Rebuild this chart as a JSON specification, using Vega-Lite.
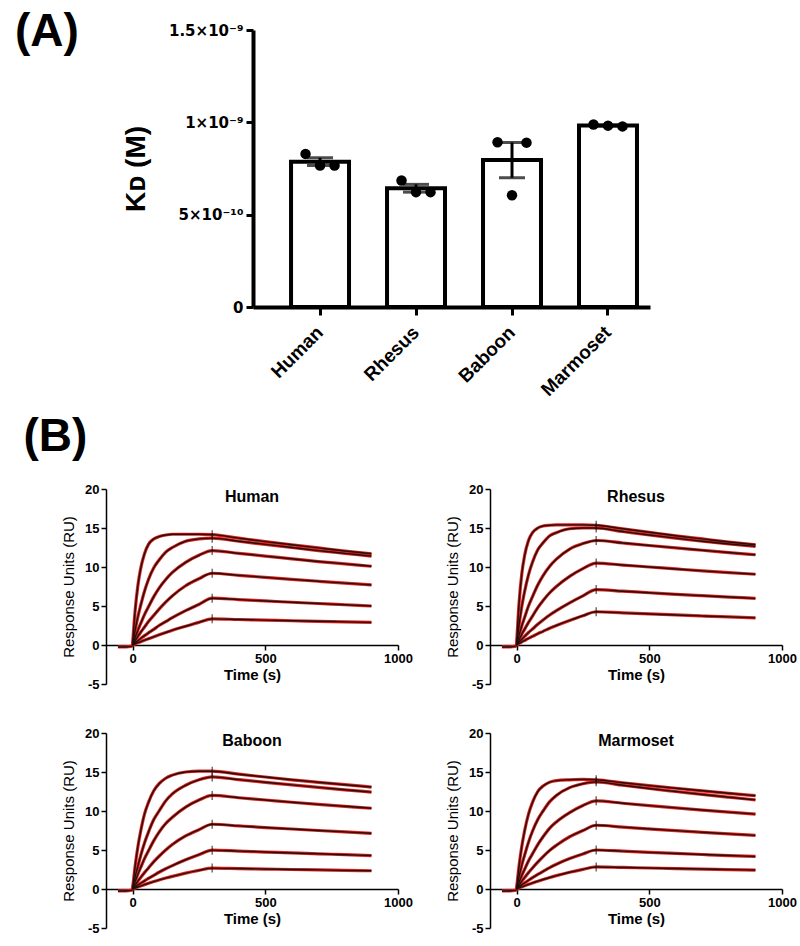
{
"$schema":"https://vega.github.io/schema/vega-lite/v6.json",
"background":"white",
"padding":{"left":15,"top":9,"right":2,"bottom":2},
"config":{"view":{"stroke":null},"font":"Liberation Sans","axis":{"grid":false,"domainColor":"black","tickColor":"black","labelColor":"black","titleColor":"black","labelFlush":false},"title":{"color":"black"}},
"datasets":{
"kd":[
{"sp":"Human","rep":1,"kd":8.29e-10},{"sp":"Human","rep":2,"kd":7.66e-10},{"sp":"Human","rep":3,"kd":7.66e-10},
{"sp":"Rhesus","rep":1,"kd":6.85e-10},{"sp":"Rhesus","rep":2,"kd":6.22e-10},{"sp":"Rhesus","rep":3,"kd":6.22e-10},
{"sp":"Baboon","rep":1,"kd":8.92e-10},{"sp":"Baboon","rep":2,"kd":6.05e-10},{"sp":"Baboon","rep":3,"kd":8.9e-10},
{"sp":"Marmoset","rep":1,"kd":9.88e-10},{"sp":"Marmoset","rep":2,"kd":9.82e-10},{"sp":"Marmoset","rep":3,"kd":9.78e-10}
],
"spr":[
{"s":"Human","c":0,"t":-55,"r":-0.25},{"s":"Human","c":0,"t":-25,"r":-0.25},{"s":"Human","c":0,"t":0,"r":-0.15},
{"s":"Human","c":1,"t":0,"r":0},{"s":"Human","c":1,"t":10,"r":4.5},{"s":"Human","c":1,"t":20,"r":7.6},{"s":"Human","c":1,"t":30,"r":9.7},{"s":"Human","c":1,"t":45,"r":11.7},{"s":"Human","c":1,"t":60,"r":12.9},{"s":"Human","c":1,"t":80,"r":13.6},{"s":"Human","c":1,"t":100,"r":13.9},{"s":"Human","c":1,"t":125,"r":14.1},{"s":"Human","c":1,"t":150,"r":14.2},{"s":"Human","c":1,"t":200,"r":14.2},{"s":"Human","c":1,"t":250,"r":14.2},{"s":"Human","c":1,"t":300,"r":14.15},{"s":"Human","c":1,"t":400,"r":13.7},{"s":"Human","c":1,"t":500,"r":13.25},{"s":"Human","c":1,"t":600,"r":12.85},{"s":"Human","c":1,"t":700,"r":12.45},{"s":"Human","c":1,"t":800,"r":12.05},{"s":"Human","c":1,"t":900,"r":11.7},
{"s":"Human","c":2,"t":0,"r":0},{"s":"Human","c":2,"t":10,"r":1.95},{"s":"Human","c":2,"t":20,"r":3.6},{"s":"Human","c":2,"t":30,"r":5.0},{"s":"Human","c":2,"t":45,"r":6.9},{"s":"Human","c":2,"t":60,"r":8.4},{"s":"Human","c":2,"t":80,"r":9.9},{"s":"Human","c":2,"t":100,"r":10.9},{"s":"Human","c":2,"t":125,"r":11.9},{"s":"Human","c":2,"t":150,"r":12.5},{"s":"Human","c":2,"t":200,"r":13.3},{"s":"Human","c":2,"t":250,"r":13.6},{"s":"Human","c":2,"t":300,"r":13.7},{"s":"Human","c":2,"t":400,"r":13.3},{"s":"Human","c":2,"t":500,"r":12.9},{"s":"Human","c":2,"t":600,"r":12.5},{"s":"Human","c":2,"t":700,"r":12.1},{"s":"Human","c":2,"t":800,"r":11.75},{"s":"Human","c":2,"t":900,"r":11.4},
{"s":"Human","c":3,"t":0,"r":0},{"s":"Human","c":3,"t":10,"r":0.98},{"s":"Human","c":3,"t":20,"r":1.9},{"s":"Human","c":3,"t":30,"r":2.7},{"s":"Human","c":3,"t":45,"r":3.9},{"s":"Human","c":3,"t":60,"r":4.9},{"s":"Human","c":3,"t":80,"r":6.2},{"s":"Human","c":3,"t":100,"r":7.3},{"s":"Human","c":3,"t":125,"r":8.4},{"s":"Human","c":3,"t":150,"r":9.3},{"s":"Human","c":3,"t":200,"r":10.6},{"s":"Human","c":3,"t":250,"r":11.5},{"s":"Human","c":3,"t":300,"r":12.1},{"s":"Human","c":3,"t":400,"r":11.75},{"s":"Human","c":3,"t":500,"r":11.4},{"s":"Human","c":3,"t":600,"r":11.05},{"s":"Human","c":3,"t":700,"r":10.7},{"s":"Human","c":3,"t":800,"r":10.4},{"s":"Human","c":3,"t":900,"r":10.1},
{"s":"Human","c":4,"t":0,"r":0},{"s":"Human","c":4,"t":10,"r":0.55},{"s":"Human","c":4,"t":20,"r":1.1},{"s":"Human","c":4,"t":30,"r":1.6},{"s":"Human","c":4,"t":45,"r":2.3},{"s":"Human","c":4,"t":60,"r":3.0},{"s":"Human","c":4,"t":80,"r":3.8},{"s":"Human","c":4,"t":100,"r":4.6},{"s":"Human","c":4,"t":125,"r":5.5},{"s":"Human","c":4,"t":150,"r":6.3},{"s":"Human","c":4,"t":200,"r":7.6},{"s":"Human","c":4,"t":250,"r":8.5},{"s":"Human","c":4,"t":300,"r":9.2},{"s":"Human","c":4,"t":400,"r":8.93},{"s":"Human","c":4,"t":500,"r":8.67},{"s":"Human","c":4,"t":600,"r":8.42},{"s":"Human","c":4,"t":700,"r":8.17},{"s":"Human","c":4,"t":800,"r":7.93},{"s":"Human","c":4,"t":900,"r":7.7},
{"s":"Human","c":5,"t":0,"r":0},{"s":"Human","c":5,"t":10,"r":0.3},{"s":"Human","c":5,"t":20,"r":0.55},{"s":"Human","c":5,"t":30,"r":0.8},{"s":"Human","c":5,"t":45,"r":1.2},{"s":"Human","c":5,"t":60,"r":1.55},{"s":"Human","c":5,"t":80,"r":2.0},{"s":"Human","c":5,"t":100,"r":2.5},{"s":"Human","c":5,"t":125,"r":3.0},{"s":"Human","c":5,"t":150,"r":3.5},{"s":"Human","c":5,"t":200,"r":4.4},{"s":"Human","c":5,"t":250,"r":5.2},{"s":"Human","c":5,"t":300,"r":6.0},{"s":"Human","c":5,"t":400,"r":5.82},{"s":"Human","c":5,"t":500,"r":5.65},{"s":"Human","c":5,"t":600,"r":5.48},{"s":"Human","c":5,"t":700,"r":5.32},{"s":"Human","c":5,"t":800,"r":5.16},{"s":"Human","c":5,"t":900,"r":5.0},
{"s":"Human","c":6,"t":0,"r":0},{"s":"Human","c":6,"t":10,"r":0.15},{"s":"Human","c":6,"t":20,"r":0.3},{"s":"Human","c":6,"t":30,"r":0.42},{"s":"Human","c":6,"t":45,"r":0.62},{"s":"Human","c":6,"t":60,"r":0.8},{"s":"Human","c":6,"t":80,"r":1.05},{"s":"Human","c":6,"t":100,"r":1.3},{"s":"Human","c":6,"t":125,"r":1.6},{"s":"Human","c":6,"t":150,"r":1.9},{"s":"Human","c":6,"t":200,"r":2.4},{"s":"Human","c":6,"t":250,"r":2.9},{"s":"Human","c":6,"t":300,"r":3.35},{"s":"Human","c":6,"t":400,"r":3.27},{"s":"Human","c":6,"t":500,"r":3.19},{"s":"Human","c":6,"t":600,"r":3.11},{"s":"Human","c":6,"t":700,"r":3.04},{"s":"Human","c":6,"t":800,"r":2.97},{"s":"Human","c":6,"t":900,"r":2.9},
{"s":"Rhesus","c":0,"t":-55,"r":-0.25},{"s":"Rhesus","c":0,"t":-25,"r":-0.25},{"s":"Rhesus","c":0,"t":0,"r":-0.15},
{"s":"Rhesus","c":1,"t":0,"r":0},{"s":"Rhesus","c":1,"t":10,"r":5.6},{"s":"Rhesus","c":1,"t":20,"r":9.2},{"s":"Rhesus","c":1,"t":30,"r":11.4},{"s":"Rhesus","c":1,"t":45,"r":13.4},{"s":"Rhesus","c":1,"t":60,"r":14.4},{"s":"Rhesus","c":1,"t":80,"r":15.0},{"s":"Rhesus","c":1,"t":100,"r":15.25},{"s":"Rhesus","c":1,"t":125,"r":15.35},{"s":"Rhesus","c":1,"t":150,"r":15.4},{"s":"Rhesus","c":1,"t":200,"r":15.4},{"s":"Rhesus","c":1,"t":250,"r":15.4},{"s":"Rhesus","c":1,"t":300,"r":15.35},{"s":"Rhesus","c":1,"t":400,"r":14.9},{"s":"Rhesus","c":1,"t":500,"r":14.45},{"s":"Rhesus","c":1,"t":600,"r":14.0},{"s":"Rhesus","c":1,"t":700,"r":13.6},{"s":"Rhesus","c":1,"t":800,"r":13.2},{"s":"Rhesus","c":1,"t":900,"r":12.86},
{"s":"Rhesus","c":2,"t":0,"r":0},{"s":"Rhesus","c":2,"t":10,"r":2.7},{"s":"Rhesus","c":2,"t":20,"r":5.0},{"s":"Rhesus","c":2,"t":30,"r":6.8},{"s":"Rhesus","c":2,"t":45,"r":9.0},{"s":"Rhesus","c":2,"t":60,"r":10.6},{"s":"Rhesus","c":2,"t":80,"r":12.2},{"s":"Rhesus","c":2,"t":100,"r":13.1},{"s":"Rhesus","c":2,"t":125,"r":14.0},{"s":"Rhesus","c":2,"t":150,"r":14.4},{"s":"Rhesus","c":2,"t":200,"r":14.9},{"s":"Rhesus","c":2,"t":250,"r":15.0},{"s":"Rhesus","c":2,"t":300,"r":15.0},{"s":"Rhesus","c":2,"t":400,"r":14.55},{"s":"Rhesus","c":2,"t":500,"r":14.1},{"s":"Rhesus","c":2,"t":600,"r":13.7},{"s":"Rhesus","c":2,"t":700,"r":13.3},{"s":"Rhesus","c":2,"t":800,"r":12.95},{"s":"Rhesus","c":2,"t":900,"r":12.65},
{"s":"Rhesus","c":3,"t":0,"r":0},{"s":"Rhesus","c":3,"t":10,"r":1.3},{"s":"Rhesus","c":3,"t":20,"r":2.5},{"s":"Rhesus","c":3,"t":30,"r":3.5},{"s":"Rhesus","c":3,"t":45,"r":5.0},{"s":"Rhesus","c":3,"t":60,"r":6.2},{"s":"Rhesus","c":3,"t":80,"r":7.7},{"s":"Rhesus","c":3,"t":100,"r":8.9},{"s":"Rhesus","c":3,"t":125,"r":10.1},{"s":"Rhesus","c":3,"t":150,"r":11.0},{"s":"Rhesus","c":3,"t":200,"r":12.3},{"s":"Rhesus","c":3,"t":250,"r":13.0},{"s":"Rhesus","c":3,"t":300,"r":13.4},{"s":"Rhesus","c":3,"t":400,"r":13.08},{"s":"Rhesus","c":3,"t":500,"r":12.76},{"s":"Rhesus","c":3,"t":600,"r":12.45},{"s":"Rhesus","c":3,"t":700,"r":12.15},{"s":"Rhesus","c":3,"t":800,"r":11.85},{"s":"Rhesus","c":3,"t":900,"r":11.57},
{"s":"Rhesus","c":4,"t":0,"r":0},{"s":"Rhesus","c":4,"t":10,"r":0.7},{"s":"Rhesus","c":4,"t":20,"r":1.4},{"s":"Rhesus","c":4,"t":30,"r":2.0},{"s":"Rhesus","c":4,"t":45,"r":2.9},{"s":"Rhesus","c":4,"t":60,"r":3.7},{"s":"Rhesus","c":4,"t":80,"r":4.8},{"s":"Rhesus","c":4,"t":100,"r":5.7},{"s":"Rhesus","c":4,"t":125,"r":6.7},{"s":"Rhesus","c":4,"t":150,"r":7.5},{"s":"Rhesus","c":4,"t":200,"r":8.8},{"s":"Rhesus","c":4,"t":250,"r":9.8},{"s":"Rhesus","c":4,"t":300,"r":10.5},{"s":"Rhesus","c":4,"t":400,"r":10.25},{"s":"Rhesus","c":4,"t":500,"r":10.0},{"s":"Rhesus","c":4,"t":600,"r":9.75},{"s":"Rhesus","c":4,"t":700,"r":9.5},{"s":"Rhesus","c":4,"t":800,"r":9.28},{"s":"Rhesus","c":4,"t":900,"r":9.07},
{"s":"Rhesus","c":5,"t":0,"r":0},{"s":"Rhesus","c":5,"t":10,"r":0.4},{"s":"Rhesus","c":5,"t":20,"r":0.75},{"s":"Rhesus","c":5,"t":30,"r":1.1},{"s":"Rhesus","c":5,"t":45,"r":1.6},{"s":"Rhesus","c":5,"t":60,"r":2.05},{"s":"Rhesus","c":5,"t":80,"r":2.65},{"s":"Rhesus","c":5,"t":100,"r":3.2},{"s":"Rhesus","c":5,"t":125,"r":3.85},{"s":"Rhesus","c":5,"t":150,"r":4.4},{"s":"Rhesus","c":5,"t":200,"r":5.4},{"s":"Rhesus","c":5,"t":250,"r":6.3},{"s":"Rhesus","c":5,"t":300,"r":7.1},{"s":"Rhesus","c":5,"t":400,"r":6.9},{"s":"Rhesus","c":5,"t":500,"r":6.7},{"s":"Rhesus","c":5,"t":600,"r":6.5},{"s":"Rhesus","c":5,"t":700,"r":6.32},{"s":"Rhesus","c":5,"t":800,"r":6.15},{"s":"Rhesus","c":5,"t":900,"r":5.98},
{"s":"Rhesus","c":6,"t":0,"r":0},{"s":"Rhesus","c":6,"t":10,"r":0.2},{"s":"Rhesus","c":6,"t":20,"r":0.4},{"s":"Rhesus","c":6,"t":30,"r":0.58},{"s":"Rhesus","c":6,"t":45,"r":0.85},{"s":"Rhesus","c":6,"t":60,"r":1.1},{"s":"Rhesus","c":6,"t":80,"r":1.45},{"s":"Rhesus","c":6,"t":100,"r":1.75},{"s":"Rhesus","c":6,"t":125,"r":2.15},{"s":"Rhesus","c":6,"t":150,"r":2.5},{"s":"Rhesus","c":6,"t":200,"r":3.15},{"s":"Rhesus","c":6,"t":250,"r":3.75},{"s":"Rhesus","c":6,"t":300,"r":4.26},{"s":"Rhesus","c":6,"t":400,"r":4.12},{"s":"Rhesus","c":6,"t":500,"r":3.98},{"s":"Rhesus","c":6,"t":600,"r":3.85},{"s":"Rhesus","c":6,"t":700,"r":3.72},{"s":"Rhesus","c":6,"t":800,"r":3.6},{"s":"Rhesus","c":6,"t":900,"r":3.48},
{"s":"Baboon","c":0,"t":-55,"r":-0.25},{"s":"Baboon","c":0,"t":-25,"r":-0.25},{"s":"Baboon","c":0,"t":0,"r":-0.15},
{"s":"Baboon","c":1,"t":0,"r":0},{"s":"Baboon","c":1,"t":10,"r":3.0},{"s":"Baboon","c":1,"t":20,"r":5.4},{"s":"Baboon","c":1,"t":30,"r":7.3},{"s":"Baboon","c":1,"t":45,"r":9.6},{"s":"Baboon","c":1,"t":60,"r":11.1},{"s":"Baboon","c":1,"t":80,"r":12.6},{"s":"Baboon","c":1,"t":100,"r":13.5},{"s":"Baboon","c":1,"t":125,"r":14.2},{"s":"Baboon","c":1,"t":150,"r":14.6},{"s":"Baboon","c":1,"t":200,"r":15.0},{"s":"Baboon","c":1,"t":250,"r":15.1},{"s":"Baboon","c":1,"t":300,"r":15.1},{"s":"Baboon","c":1,"t":400,"r":14.72},{"s":"Baboon","c":1,"t":500,"r":14.36},{"s":"Baboon","c":1,"t":600,"r":14.0},{"s":"Baboon","c":1,"t":700,"r":13.68},{"s":"Baboon","c":1,"t":800,"r":13.37},{"s":"Baboon","c":1,"t":900,"r":13.07},
{"s":"Baboon","c":2,"t":0,"r":0},{"s":"Baboon","c":2,"t":10,"r":1.6},{"s":"Baboon","c":2,"t":20,"r":2.9},{"s":"Baboon","c":2,"t":30,"r":4.2},{"s":"Baboon","c":2,"t":45,"r":5.9},{"s":"Baboon","c":2,"t":60,"r":7.3},{"s":"Baboon","c":2,"t":80,"r":8.9},{"s":"Baboon","c":2,"t":100,"r":10.0},{"s":"Baboon","c":2,"t":125,"r":11.3},{"s":"Baboon","c":2,"t":150,"r":12.2},{"s":"Baboon","c":2,"t":200,"r":13.3},{"s":"Baboon","c":2,"t":250,"r":14.0},{"s":"Baboon","c":2,"t":300,"r":14.37},{"s":"Baboon","c":2,"t":400,"r":14.02},{"s":"Baboon","c":2,"t":500,"r":13.68},{"s":"Baboon","c":2,"t":600,"r":13.35},{"s":"Baboon","c":2,"t":700,"r":13.03},{"s":"Baboon","c":2,"t":800,"r":12.72},{"s":"Baboon","c":2,"t":900,"r":12.42},
{"s":"Baboon","c":3,"t":0,"r":0},{"s":"Baboon","c":3,"t":10,"r":0.97},{"s":"Baboon","c":3,"t":20,"r":1.9},{"s":"Baboon","c":3,"t":30,"r":2.7},{"s":"Baboon","c":3,"t":45,"r":3.9},{"s":"Baboon","c":3,"t":60,"r":4.9},{"s":"Baboon","c":3,"t":80,"r":6.2},{"s":"Baboon","c":3,"t":100,"r":7.3},{"s":"Baboon","c":3,"t":125,"r":8.4},{"s":"Baboon","c":3,"t":150,"r":9.2},{"s":"Baboon","c":3,"t":200,"r":10.5},{"s":"Baboon","c":3,"t":250,"r":11.4},{"s":"Baboon","c":3,"t":300,"r":12.0},{"s":"Baboon","c":3,"t":400,"r":11.7},{"s":"Baboon","c":3,"t":500,"r":11.41},{"s":"Baboon","c":3,"t":600,"r":11.12},{"s":"Baboon","c":3,"t":700,"r":10.85},{"s":"Baboon","c":3,"t":800,"r":10.6},{"s":"Baboon","c":3,"t":900,"r":10.35},
{"s":"Baboon","c":4,"t":0,"r":0},{"s":"Baboon","c":4,"t":10,"r":0.5},{"s":"Baboon","c":4,"t":20,"r":1.0},{"s":"Baboon","c":4,"t":30,"r":1.45},{"s":"Baboon","c":4,"t":45,"r":2.1},{"s":"Baboon","c":4,"t":60,"r":2.7},{"s":"Baboon","c":4,"t":80,"r":3.5},{"s":"Baboon","c":4,"t":100,"r":4.2},{"s":"Baboon","c":4,"t":125,"r":5.0},{"s":"Baboon","c":4,"t":150,"r":5.7},{"s":"Baboon","c":4,"t":200,"r":6.8},{"s":"Baboon","c":4,"t":250,"r":7.6},{"s":"Baboon","c":4,"t":300,"r":8.3},{"s":"Baboon","c":4,"t":400,"r":8.09},{"s":"Baboon","c":4,"t":500,"r":7.88},{"s":"Baboon","c":4,"t":600,"r":7.69},{"s":"Baboon","c":4,"t":700,"r":7.5},{"s":"Baboon","c":4,"t":800,"r":7.32},{"s":"Baboon","c":4,"t":900,"r":7.14},
{"s":"Baboon","c":5,"t":0,"r":0},{"s":"Baboon","c":5,"t":10,"r":0.25},{"s":"Baboon","c":5,"t":20,"r":0.5},{"s":"Baboon","c":5,"t":30,"r":0.72},{"s":"Baboon","c":5,"t":45,"r":1.05},{"s":"Baboon","c":5,"t":60,"r":1.35},{"s":"Baboon","c":5,"t":80,"r":1.75},{"s":"Baboon","c":5,"t":100,"r":2.15},{"s":"Baboon","c":5,"t":125,"r":2.6},{"s":"Baboon","c":5,"t":150,"r":3.0},{"s":"Baboon","c":5,"t":200,"r":3.75},{"s":"Baboon","c":5,"t":250,"r":4.4},{"s":"Baboon","c":5,"t":300,"r":4.98},{"s":"Baboon","c":5,"t":400,"r":4.86},{"s":"Baboon","c":5,"t":500,"r":4.74},{"s":"Baboon","c":5,"t":600,"r":4.62},{"s":"Baboon","c":5,"t":700,"r":4.51},{"s":"Baboon","c":5,"t":800,"r":4.4},{"s":"Baboon","c":5,"t":900,"r":4.29},
{"s":"Baboon","c":6,"t":0,"r":0},{"s":"Baboon","c":6,"t":10,"r":0.13},{"s":"Baboon","c":6,"t":20,"r":0.26},{"s":"Baboon","c":6,"t":30,"r":0.38},{"s":"Baboon","c":6,"t":45,"r":0.56},{"s":"Baboon","c":6,"t":60,"r":0.73},{"s":"Baboon","c":6,"t":80,"r":0.95},{"s":"Baboon","c":6,"t":100,"r":1.16},{"s":"Baboon","c":6,"t":125,"r":1.4},{"s":"Baboon","c":6,"t":150,"r":1.62},{"s":"Baboon","c":6,"t":200,"r":2.03},{"s":"Baboon","c":6,"t":250,"r":2.38},{"s":"Baboon","c":6,"t":300,"r":2.68},{"s":"Baboon","c":6,"t":400,"r":2.62},{"s":"Baboon","c":6,"t":500,"r":2.56},{"s":"Baboon","c":6,"t":600,"r":2.5},{"s":"Baboon","c":6,"t":700,"r":2.45},{"s":"Baboon","c":6,"t":800,"r":2.39},{"s":"Baboon","c":6,"t":900,"r":2.34},
{"s":"Marmoset","c":0,"t":-55,"r":-0.25},{"s":"Marmoset","c":0,"t":-25,"r":-0.25},{"s":"Marmoset","c":0,"t":0,"r":-0.15},
{"s":"Marmoset","c":1,"t":0,"r":0},{"s":"Marmoset","c":1,"t":10,"r":3.1},{"s":"Marmoset","c":1,"t":20,"r":5.5},{"s":"Marmoset","c":1,"t":30,"r":7.4},{"s":"Marmoset","c":1,"t":45,"r":9.6},{"s":"Marmoset","c":1,"t":60,"r":11.1},{"s":"Marmoset","c":1,"t":80,"r":12.5},{"s":"Marmoset","c":1,"t":100,"r":13.2},{"s":"Marmoset","c":1,"t":125,"r":13.7},{"s":"Marmoset","c":1,"t":150,"r":13.9},{"s":"Marmoset","c":1,"t":200,"r":14.0},{"s":"Marmoset","c":1,"t":250,"r":14.05},{"s":"Marmoset","c":1,"t":300,"r":14.0},{"s":"Marmoset","c":1,"t":400,"r":13.62},{"s":"Marmoset","c":1,"t":500,"r":13.26},{"s":"Marmoset","c":1,"t":600,"r":12.92},{"s":"Marmoset","c":1,"t":700,"r":12.59},{"s":"Marmoset","c":1,"t":800,"r":12.27},{"s":"Marmoset","c":1,"t":900,"r":11.96},
{"s":"Marmoset","c":2,"t":0,"r":0},{"s":"Marmoset","c":2,"t":10,"r":1.65},{"s":"Marmoset","c":2,"t":20,"r":3.1},{"s":"Marmoset","c":2,"t":30,"r":4.3},{"s":"Marmoset","c":2,"t":45,"r":6.0},{"s":"Marmoset","c":2,"t":60,"r":7.4},{"s":"Marmoset","c":2,"t":80,"r":8.9},{"s":"Marmoset","c":2,"t":100,"r":10.0},{"s":"Marmoset","c":2,"t":125,"r":11.2},{"s":"Marmoset","c":2,"t":150,"r":12.0},{"s":"Marmoset","c":2,"t":200,"r":13.0},{"s":"Marmoset","c":2,"t":250,"r":13.5},{"s":"Marmoset","c":2,"t":300,"r":13.74},{"s":"Marmoset","c":2,"t":400,"r":13.3},{"s":"Marmoset","c":2,"t":500,"r":12.88},{"s":"Marmoset","c":2,"t":600,"r":12.5},{"s":"Marmoset","c":2,"t":700,"r":12.12},{"s":"Marmoset","c":2,"t":800,"r":11.77},{"s":"Marmoset","c":2,"t":900,"r":11.43},
{"s":"Marmoset","c":3,"t":0,"r":0},{"s":"Marmoset","c":3,"t":10,"r":0.9},{"s":"Marmoset","c":3,"t":20,"r":1.75},{"s":"Marmoset","c":3,"t":30,"r":2.5},{"s":"Marmoset","c":3,"t":45,"r":3.6},{"s":"Marmoset","c":3,"t":60,"r":4.5},{"s":"Marmoset","c":3,"t":80,"r":5.7},{"s":"Marmoset","c":3,"t":100,"r":6.7},{"s":"Marmoset","c":3,"t":125,"r":7.8},{"s":"Marmoset","c":3,"t":150,"r":8.6},{"s":"Marmoset","c":3,"t":200,"r":9.8},{"s":"Marmoset","c":3,"t":250,"r":10.7},{"s":"Marmoset","c":3,"t":300,"r":11.3},{"s":"Marmoset","c":3,"t":400,"r":10.99},{"s":"Marmoset","c":3,"t":500,"r":10.69},{"s":"Marmoset","c":3,"t":600,"r":10.4},{"s":"Marmoset","c":3,"t":700,"r":10.12},{"s":"Marmoset","c":3,"t":800,"r":9.86},{"s":"Marmoset","c":3,"t":900,"r":9.6},
{"s":"Marmoset","c":4,"t":0,"r":0},{"s":"Marmoset","c":4,"t":10,"r":0.5},{"s":"Marmoset","c":4,"t":20,"r":1.0},{"s":"Marmoset","c":4,"t":30,"r":1.45},{"s":"Marmoset","c":4,"t":45,"r":2.1},{"s":"Marmoset","c":4,"t":60,"r":2.7},{"s":"Marmoset","c":4,"t":80,"r":3.45},{"s":"Marmoset","c":4,"t":100,"r":4.15},{"s":"Marmoset","c":4,"t":125,"r":4.95},{"s":"Marmoset","c":4,"t":150,"r":5.6},{"s":"Marmoset","c":4,"t":200,"r":6.7},{"s":"Marmoset","c":4,"t":250,"r":7.5},{"s":"Marmoset","c":4,"t":300,"r":8.17},{"s":"Marmoset","c":4,"t":400,"r":7.93},{"s":"Marmoset","c":4,"t":500,"r":7.7},{"s":"Marmoset","c":4,"t":600,"r":7.48},{"s":"Marmoset","c":4,"t":700,"r":7.27},{"s":"Marmoset","c":4,"t":800,"r":7.07},{"s":"Marmoset","c":4,"t":900,"r":6.87},
{"s":"Marmoset","c":5,"t":0,"r":0},{"s":"Marmoset","c":5,"t":10,"r":0.27},{"s":"Marmoset","c":5,"t":20,"r":0.53},{"s":"Marmoset","c":5,"t":30,"r":0.77},{"s":"Marmoset","c":5,"t":45,"r":1.12},{"s":"Marmoset","c":5,"t":60,"r":1.45},{"s":"Marmoset","c":5,"t":80,"r":1.87},{"s":"Marmoset","c":5,"t":100,"r":2.27},{"s":"Marmoset","c":5,"t":125,"r":2.75},{"s":"Marmoset","c":5,"t":150,"r":3.17},{"s":"Marmoset","c":5,"t":200,"r":3.9},{"s":"Marmoset","c":5,"t":250,"r":4.5},{"s":"Marmoset","c":5,"t":300,"r":5.0},{"s":"Marmoset","c":5,"t":400,"r":4.85},{"s":"Marmoset","c":5,"t":500,"r":4.7},{"s":"Marmoset","c":5,"t":600,"r":4.56},{"s":"Marmoset","c":5,"t":700,"r":4.42},{"s":"Marmoset","c":5,"t":800,"r":4.29},{"s":"Marmoset","c":5,"t":900,"r":4.17},
{"s":"Marmoset","c":6,"t":0,"r":0},{"s":"Marmoset","c":6,"t":10,"r":0.14},{"s":"Marmoset","c":6,"t":20,"r":0.28},{"s":"Marmoset","c":6,"t":30,"r":0.41},{"s":"Marmoset","c":6,"t":45,"r":0.6},{"s":"Marmoset","c":6,"t":60,"r":0.78},{"s":"Marmoset","c":6,"t":80,"r":1.0},{"s":"Marmoset","c":6,"t":100,"r":1.22},{"s":"Marmoset","c":6,"t":125,"r":1.48},{"s":"Marmoset","c":6,"t":150,"r":1.72},{"s":"Marmoset","c":6,"t":200,"r":2.15},{"s":"Marmoset","c":6,"t":250,"r":2.52},{"s":"Marmoset","c":6,"t":300,"r":2.83},{"s":"Marmoset","c":6,"t":400,"r":2.76},{"s":"Marmoset","c":6,"t":500,"r":2.69},{"s":"Marmoset","c":6,"t":600,"r":2.62},{"s":"Marmoset","c":6,"t":700,"r":2.56},{"s":"Marmoset","c":6,"t":800,"r":2.49},{"s":"Marmoset","c":6,"t":900,"r":2.43}
]
},
"columns":1,
"align":"none",
"spacing":14,
"concat":[
{
"title":{"text":"(A)","anchor":"start","frame":"bounds","fontSize":46,"fontWeight":"bold","dx":-91,"offset":-33},
"spacing":15,
"hconcat":[
{"width":1,"height":1,"data":{"values":[]},"mark":{"type":"point","opacity":0}},
{
"width":397,"height":277,
"data":{"name":"kd"},
"resolve":{"scale":{"xOffset":"independent"}},
"encoding":{"x":{"field":"sp","type":"nominal","sort":["Human","Rhesus","Baboon","Marmoset"],"scale":{"paddingInner":0.396,"paddingOuter":0.266,"align":0.745},"axis":{"title":null,"labelAngle":-45,"labelAlign":"right","labelBaseline":"middle","labelFontSize":19,"labelFontWeight":"bold","domainWidth":4,"tickWidth":3,"tickSize":8,"labelPadding":14}}},
"layer":[
{"mark":{"type":"bar","fill":"white","stroke":"black","strokeWidth":4},
 "encoding":{"y":{"aggregate":"mean","field":"kd","type":"quantitative","title":"Kᴅ (M)","scale":{"domain":[0,1.5e-9],"nice":false},"axis":{"values":[0,5e-10,1e-9,1.5e-9],"labelExpr":"datum.value == 0 ? '0' : datum.value < 6e-10 ? '5×10⁻¹⁰' : datum.value < 1.2e-9 ? '1×10⁻⁹' : '1.5×10⁻⁹'","labelFont":"DejaVu Sans","labelFontSize":15,"labelFontWeight":"bold","titleFontSize":28,"titleFontWeight":"bold","titlePadding":18,"domainWidth":4,"tickWidth":3,"tickSize":7,"labelPadding":3}}}},
{"mark":{"type":"errorbar","extent":"stderr","color":"black","ticks":{"size":26,"thickness":3},"rule":{"strokeWidth":3}},
 "encoding":{"y":{"field":"kd","type":"quantitative","title":"Kᴅ (M)"}}},
{"mark":{"type":"circle","size":110,"color":"black","opacity":1},
 "encoding":{"y":{"field":"kd","type":"quantitative","title":"Kᴅ (M)"},"xOffset":{"field":"rep","type":"ordinal","scale":{"paddingInner":0,"paddingOuter":1.05}}}}
]
}
]
},
{
"title":{"text":"(B)","anchor":"start","frame":"bounds","fontSize":46,"fontWeight":"bold","dx":-38,"offset":22},
"columns":2,
"spacing":{"row":36,"column":32},
"concat":[
{"width":292,"height":195,"title":{"text":"Human","fontSize":16,"fontWeight":"bold","offset":-22,"anchor":"middle"},
 "data":{"name":"spr"},"transform":[{"filter":"datum.s == 'Human'"}],
 "encoding":{"x":{"field":"t","type":"quantitative","scale":{"domain":[-100,1000],"nice":false,"zero":false},"axis":{"values":[0,500,1000],"format":"d","title":"Time (s)","offset":-39,"titleFontSize":15,"titleFontWeight":"bold","labelFontSize":13,"labelFontWeight":"bold","tickSize":5,"domainWidth":1.5,"tickWidth":1.5,"titlePadding":2,"labelPadding":2}},
  "y":{"field":"r","type":"quantitative","scale":{"domain":[-5,20],"nice":false},"axis":{"values":[-5,0,5,10,15,20],"labelExpr":"datum.value < 0 ? '-' + abs(datum.value) : '' + datum.value","title":"Response Units (RU)","titleFontSize":15,"titleFontWeight":"normal","labelFontSize":13,"labelFontWeight":"bold","tickSize":5,"domainWidth":1.5,"tickWidth":1.5,"titlePadding":8}},
  "detail":{"field":"c","type":"nominal"}},
 "layer":[{"mark":{"type":"line","color":"#e3211c","strokeWidth":3.2,"interpolate":"monotone"},"encoding":{}},{"mark":{"type":"line","color":"#1b1010","strokeWidth":1.4,"interpolate":"monotone"},"encoding":{}},{"transform":[{"filter":"datum.t == 300 && datum.c > 0"}],"mark":{"type":"tick","orient":"vertical","size":9,"thickness":1.3,"color":"#1b1010"},"encoding":{}}]},
{"width":292,"height":195,"title":{"text":"Rhesus","fontSize":16,"fontWeight":"bold","offset":-22,"anchor":"middle"},
 "data":{"name":"spr"},"transform":[{"filter":"datum.s == 'Rhesus'"}],
 "encoding":{"x":{"field":"t","type":"quantitative","scale":{"domain":[-100,1000],"nice":false,"zero":false},"axis":{"values":[0,500,1000],"format":"d","title":"Time (s)","offset":-39,"titleFontSize":15,"titleFontWeight":"bold","labelFontSize":13,"labelFontWeight":"bold","tickSize":5,"domainWidth":1.5,"tickWidth":1.5,"titlePadding":2,"labelPadding":2}},
  "y":{"field":"r","type":"quantitative","scale":{"domain":[-5,20],"nice":false},"axis":{"values":[-5,0,5,10,15,20],"labelExpr":"datum.value < 0 ? '-' + abs(datum.value) : '' + datum.value","title":"Response Units (RU)","titleFontSize":15,"titleFontWeight":"normal","labelFontSize":13,"labelFontWeight":"bold","tickSize":5,"domainWidth":1.5,"tickWidth":1.5,"titlePadding":8}},
  "detail":{"field":"c","type":"nominal"}},
 "layer":[{"mark":{"type":"line","color":"#e3211c","strokeWidth":3.2,"interpolate":"monotone"},"encoding":{}},{"mark":{"type":"line","color":"#1b1010","strokeWidth":1.4,"interpolate":"monotone"},"encoding":{}},{"transform":[{"filter":"datum.t == 300 && datum.c > 0"}],"mark":{"type":"tick","orient":"vertical","size":9,"thickness":1.3,"color":"#1b1010"},"encoding":{}}]},
{"width":292,"height":195,"title":{"text":"Baboon","fontSize":16,"fontWeight":"bold","offset":-22,"anchor":"middle"},
 "data":{"name":"spr"},"transform":[{"filter":"datum.s == 'Baboon'"}],
 "encoding":{"x":{"field":"t","type":"quantitative","scale":{"domain":[-100,1000],"nice":false,"zero":false},"axis":{"values":[0,500,1000],"format":"d","title":"Time (s)","offset":-39,"titleFontSize":15,"titleFontWeight":"bold","labelFontSize":13,"labelFontWeight":"bold","tickSize":5,"domainWidth":1.5,"tickWidth":1.5,"titlePadding":2,"labelPadding":2}},
  "y":{"field":"r","type":"quantitative","scale":{"domain":[-5,20],"nice":false},"axis":{"values":[-5,0,5,10,15,20],"labelExpr":"datum.value < 0 ? '-' + abs(datum.value) : '' + datum.value","title":"Response Units (RU)","titleFontSize":15,"titleFontWeight":"normal","labelFontSize":13,"labelFontWeight":"bold","tickSize":5,"domainWidth":1.5,"tickWidth":1.5,"titlePadding":8}},
  "detail":{"field":"c","type":"nominal"}},
 "layer":[{"mark":{"type":"line","color":"#e3211c","strokeWidth":3.2,"interpolate":"monotone"},"encoding":{}},{"mark":{"type":"line","color":"#1b1010","strokeWidth":1.4,"interpolate":"monotone"},"encoding":{}},{"transform":[{"filter":"datum.t == 300 && datum.c > 0"}],"mark":{"type":"tick","orient":"vertical","size":9,"thickness":1.3,"color":"#1b1010"},"encoding":{}}]},
{"width":292,"height":195,"title":{"text":"Marmoset","fontSize":16,"fontWeight":"bold","offset":-22,"anchor":"middle"},
 "data":{"name":"spr"},"transform":[{"filter":"datum.s == 'Marmoset'"}],
 "encoding":{"x":{"field":"t","type":"quantitative","scale":{"domain":[-100,1000],"nice":false,"zero":false},"axis":{"values":[0,500,1000],"format":"d","title":"Time (s)","offset":-39,"titleFontSize":15,"titleFontWeight":"bold","labelFontSize":13,"labelFontWeight":"bold","tickSize":5,"domainWidth":1.5,"tickWidth":1.5,"titlePadding":2,"labelPadding":2}},
  "y":{"field":"r","type":"quantitative","scale":{"domain":[-5,20],"nice":false},"axis":{"values":[-5,0,5,10,15,20],"labelExpr":"datum.value < 0 ? '-' + abs(datum.value) : '' + datum.value","title":"Response Units (RU)","titleFontSize":15,"titleFontWeight":"normal","labelFontSize":13,"labelFontWeight":"bold","tickSize":5,"domainWidth":1.5,"tickWidth":1.5,"titlePadding":8}},
  "detail":{"field":"c","type":"nominal"}},
 "layer":[{"mark":{"type":"line","color":"#e3211c","strokeWidth":3.2,"interpolate":"monotone"},"encoding":{}},{"mark":{"type":"line","color":"#1b1010","strokeWidth":1.4,"interpolate":"monotone"},"encoding":{}},{"transform":[{"filter":"datum.t == 300 && datum.c > 0"}],"mark":{"type":"tick","orient":"vertical","size":9,"thickness":1.3,"color":"#1b1010"},"encoding":{}}]}
]
}
]
}
